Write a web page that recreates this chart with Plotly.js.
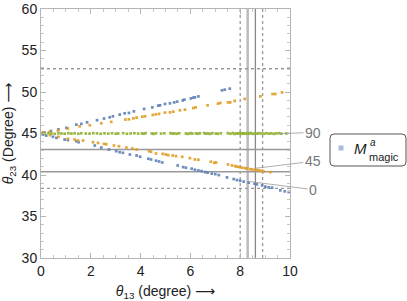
<!DOCTYPE html>
<html><head><meta charset="utf-8">
<script src="https://cdn.plot.ly/plotly-3.0.1.min.js"></script>
<style>html,body{margin:0;padding:0;background:#fff}</style>
</head><body>
<div id="chart" style="width:407px;height:301px"></div>
<script>
// Blue series (upper and lower branches)
const blueUpperX = [0.15,0.4,0.7,1.02,1.42,1.62,1.85,2.25,2.53,2.76,2.89,3.16,3.36,3.53,3.73,4.14,4.47,4.71,4.78,4.98,5.18,5.35,5.47,5.69,5.76,6.02,6.12,6.18,6.32,7.27,7.38,7.58];
const blueUpperY = [45.1,45.3,45.5,45.68,46.07,46.16,46.35,46.6,46.8,46.95,47.07,47.27,47.43,47.48,47.67,47.96,48.15,48.36,48.39,48.56,48.63,48.75,48.84,48.99,49.08,49.23,49.32,49.35,49.47,50.2,50.28,50.4];
const blueLowerX = [0.08,0.21,0.48,0.62,0.95,1.08,1.42,1.51,2.16,2.42,2.73,3.02,3.16,3.29,3.57,3.84,3.98,4.31,4.42,4.62,4.74,4.87,5.49,5.71,5.82,6.05,6.18,6.32,6.45,6.59,6.69,6.86,7.0,7.14,7.47,7.74,7.87,8.0,8.14,8.34,8.58,8.67,8.88,9.01,9.14,9.28,9.61,9.79,9.95];
const blueLowerY = [44.87,44.75,44.6,44.47,44.27,44.2,44.07,43.95,43.55,43.31,43.07,42.87,42.75,42.68,42.47,42.35,42.2,41.96,41.87,41.72,41.63,41.51,41.15,40.95,40.88,40.76,40.63,40.55,40.47,40.35,40.28,40.16,40.11,39.99,39.71,39.51,39.39,39.31,39.2,39.08,38.96,38.87,38.75,38.6,38.51,38.47,38.15,38.03,37.95];
// Orange series
const orangeUpperX = [0.08,0.35,0.68,1.08,1.55,1.96,2.42,2.82,3.39,3.53,3.71,3.84,4.07,4.18,4.49,4.61,4.74,4.98,5.18,5.31,5.58,5.78,6.12,6.21,6.69,7.11,7.2,7.51,7.6,7.78,8.18,8.81,9.3,9.41,9.68];
const orangeUpperY = [45.15,45.2,45.36,45.6,45.87,46.0,46.23,46.4,46.68,46.71,46.83,46.91,47.03,47.07,47.24,47.31,47.36,47.51,47.55,47.63,47.79,47.87,48.07,48.15,48.39,48.6,48.68,48.75,48.75,48.92,49.16,49.47,49.76,49.76,49.95];
const orangeLowerX = [0.36,0.7,1.08,1.35,1.49,1.69,2.09,2.29,2.53,2.62,2.93,3.13,3.43,3.67,3.84,4.34,4.42,4.62,4.89,5.01,5.11,5.29,5.42,5.67,5.98,6.18,6.32,6.82,6.96,7.03,7.51,7.67,7.8,7.87,7.96,8.07,8.18,8.27,8.41,8.47,8.58,8.67,8.77,8.88,8.94,9.21];
const orangeLowerY = [44.8,44.6,44.36,44.27,44.15,44.15,43.95,43.87,43.75,43.71,43.55,43.47,43.31,43.19,43.07,42.87,42.8,42.59,42.55,42.47,42.39,42.35,42.27,42.19,42.03,41.87,41.83,41.6,41.48,41.51,41.27,41.15,41.07,41.0,40.95,40.88,40.83,40.79,40.71,40.67,40.63,40.59,40.55,40.51,40.43,40.35];
// Green series (flat near 45)
const greenX = [0.05,0.15,0.3,0.42,0.55,0.7,0.82,0.95,1.1,1.22,1.35,1.5,1.62,1.8,1.95,2.1,2.25,2.4,2.55,2.7,2.85,3.0,3.1,3.3,3.45,3.6,3.75,3.9,4.05,4.12,4.2,4.45,4.52,4.62,4.82,4.95,5.2,5.28,5.35,5.45,5.55,5.82,5.9,6.0,6.08,6.22,6.3,6.38,6.55,6.62,6.7,6.78,6.88,7.02,7.1,7.22,7.5,7.6,7.7,7.78,7.85,7.92,7.98,8.05,8.1,8.16,8.22,8.3,8.36,8.42,8.5,8.6,8.68,8.75,8.85,8.95,9.05,9.15,9.25,9.35,9.45,9.55,9.65,9.85];
const greenY = [45.02,44.97,45.05,45.0,44.96,45.03,45.0,44.98,45.04,44.99,45.02,44.97,45.03,45.0,44.98,45.04,45.01,44.97,45.02,44.99,45.03,44.98,45.0,45.04,44.97,45.01,45.03,44.99,45.02,44.97,45.04,45.0,44.96,45.03,44.99,45.02,45.04,44.98,45.01,44.97,45.03,45.0,44.96,45.04,44.99,45.02,44.97,45.03,45.05,44.98,45.01,44.96,45.03,45.0,44.97,45.02,45.04,44.97,45.06,44.95,45.02,44.98,45.05,44.96,45.03,45.0,44.97,45.04,44.99,45.06,44.96,45.02,44.98,45.04,45.0,44.97,45.03,44.99,45.02,44.96,45.01,45.04,44.98,45.0];
// Reference lines
const vDashed = [8.0, 8.9];
const vSolidLight = 8.3;
const vSolidDark = 8.61;
const hDashed = [52.8, 38.4];
const hSolid = [43.07, 40.4];
// Right-side labels: [text, x, y, ax, ay]
const sideLabels = [["90",9.6,45.0,33,-1],["45",8.58,40.8,58,-7],["0",8.4,39.2,63,8]];

const blue='#5e81b5', orange='#e19c24', green='#8fb032';
const mk = (c)=>({color:c, size:2.7, symbol:'square', opacity:0.9});
const traces = [
  {x:blueUpperX.concat(blueLowerX), y:blueUpperY.concat(blueLowerY), mode:'markers', type:'scatter', marker:mk(blue), showlegend:false},
  {x:orangeUpperX.concat(orangeLowerX), y:orangeUpperY.concat(orangeLowerY), mode:'markers', type:'scatter', marker:mk(orange), showlegend:false},
  {x:greenX, y:greenY, mode:'markers', type:'scatter', marker:mk(green), showlegend:false}
];
const shapes = [];
vDashed.forEach(v=>shapes.push({type:'line',xref:'x',yref:'paper',x0:v,x1:v,y0:0,y1:1,line:{color:'#999',width:1.3,dash:'dot'},layer:'below'}));
shapes.push({type:'line',xref:'x',yref:'paper',x0:vSolidLight,x1:vSolidLight,y0:0,y1:1,line:{color:'#bbb',width:2.5},layer:'below'});
shapes.push({type:'line',xref:'x',yref:'paper',x0:vSolidDark,x1:vSolidDark,y0:0,y1:1,line:{color:'#888',width:1.3},layer:'below'});
hDashed.forEach(v=>shapes.push({type:'line',xref:'paper',yref:'y',x0:0,x1:1,y0:v,y1:v,line:{color:'#999',width:1.3,dash:'dot'},layer:'below'}));
hSolid.forEach(v=>shapes.push({type:'line',xref:'paper',yref:'y',x0:0,x1:1,y0:v,y1:v,line:{color:'#999',width:1.6},layer:'below'}));
// legend box (paper coords, 249 px per unit)
const P=(px)=>(px-41)/249, Q=(py)=>(258-py)/249;
const x0=P(330),x1=P(406),y0=Q(166),y1=Q(134),r=4/249;
shapes.push({type:'path',xref:'paper',yref:'paper',
  path:`M ${x0+r} ${y0} L ${x1-r} ${y0} Q ${x1} ${y0} ${x1} ${y0+r} L ${x1} ${y1-r} Q ${x1} ${y1} ${x1-r} ${y1} L ${x0+r} ${y1} Q ${x0} ${y1} ${x0} ${y1-r} L ${x0} ${y0+r} Q ${x0} ${y0} ${x0+r} ${y0} Z`,
  line:{color:'#555',width:1},fillcolor:'#fff'});
shapes.push({type:'rect',xref:'paper',yref:'paper',x0:P(338.5),x1:P(343.5),y0:Q(150.5),y1:Q(145.5),line:{width:0},fillcolor:'#aabbd9'});

const ff='Liberation Sans, Arial, sans-serif';
const annotations = sideLabels.map(s=>({x:s[1],y:s[2],xref:'x',yref:'y',text:s[0],showarrow:true,arrowhead:0,arrowwidth:0.8,arrowcolor:'#999',ax:s[3],ay:s[4],font:{size:14,color:'#777',family:ff}}));
annotations.push({xref:'paper',yref:'paper',x:P(368),y:Q(148),xanchor:'right',yanchor:'middle',borderpad:0,text:'<i>M</i>',showarrow:false,font:{size:15,color:'#222',family:ff}});
annotations.push({xref:'paper',yref:'paper',x:P(369),y:Q(142),xanchor:'left',yanchor:'middle',borderpad:0,text:'<i>a</i>',showarrow:false,font:{size:10,color:'#222',family:ff}});
annotations.push({xref:'paper',yref:'paper',x:P(368),y:Q(157),xanchor:'left',yanchor:'middle',borderpad:0,text:'magic',showarrow:false,font:{size:11,color:'#222',family:ff}});

const axCommon = {showline:true, linecolor:'#b5b5b5', linewidth:1, mirror:'ticks', ticks:'inside', ticklen:5, tickcolor:'#b5b5b5', tickwidth:1, showgrid:false, zeroline:false,
  tickfont:{size:14,color:'#222',family:ff}};
const layout = {
  width:407, height:301, margin:{l:41,r:117,t:9,b:43},
  paper_bgcolor:'#fff', plot_bgcolor:'#fff', showlegend:false,
  xaxis:Object.assign({}, axCommon, {range:[0,10], dtick:2, tick0:0, minor:{dtick:0.5, ticks:'inside', ticklen:3, tickcolor:'#c5c5c5'},
    title:{text:'<i>θ</i><sub>13</sub> (degree) ⟶', font:{size:14,color:'#222',family:'Liberation Sans, DejaVu Sans, sans-serif'}, standoff:12}}),
  yaxis:Object.assign({}, axCommon, {range:[30,60], dtick:5, tick0:30, minor:{dtick:1, ticks:'inside', ticklen:3, tickcolor:'#c5c5c5'},
    title:{text:'<i>θ</i><sub>23</sub> (Degree) ⟶', font:{size:14,color:'#222',family:'Liberation Sans, DejaVu Sans, sans-serif'}, standoff:4}}),
  shapes:shapes, annotations:annotations
};
Plotly.newPlot('chart', traces, layout, {displayModeBar:false, staticPlot:true});
</script>
</body></html>
